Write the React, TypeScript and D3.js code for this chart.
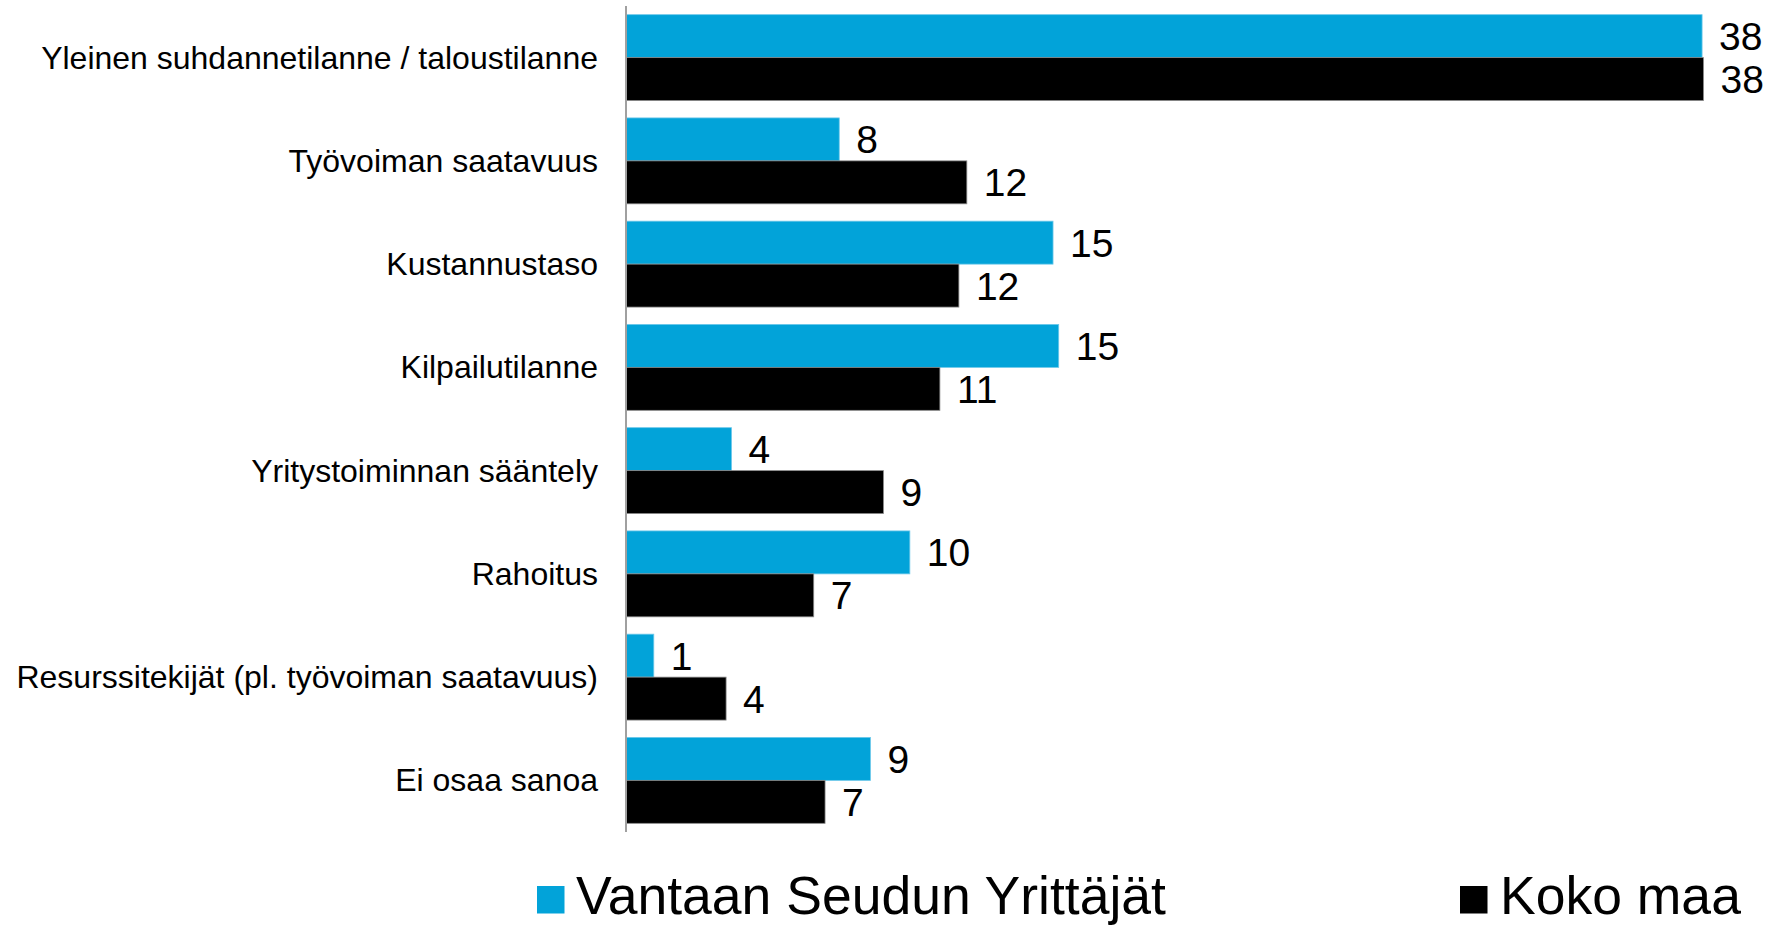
import React from "react";
import * as d3 from "d3";

const categories = [
  "Yleinen suhdannetilanne / taloustilanne",
  "Työvoiman saatavuus",
  "Kustannustaso",
  "Kilpailutilanne",
  "Yritystoiminnan sääntely",
  "Rahoitus",
  "Resurssitekijät (pl. työvoiman saatavuus)",
  "Ei osaa sanoa",
];
const seriesNames = ["Vantaan Seudun Yrittäjät", "Koko maa"];
const vantaa = [37.95, 7.52, 15.06, 15.26, 3.72, 10.01, 0.98, 8.62];
const kokoMaa = [38.0, 12.02, 11.74, 11.07, 9.08, 6.62, 3.53, 7.02];
const colors = ["#02A3D9", "#000000"];

const W = 1775;
const H = 925;
const FONT = "'Liberation Sans', Arial, Helvetica, sans-serif";

export default function App() {
  const x = d3.scaleLinear().domain([0, 38]).range([626, 1703.5]);
  const y = d3
    .scaleBand<string>()
    .domain(categories)
    .range([6, 832])
    .paddingInner(0.168)
    .paddingOuter(0.084);
  const sub = d3
    .scaleBand<string>()
    .domain(seriesNames)
    .range([0, y.bandwidth()]);
  const series = [vantaa, kokoMaa];
  const fmt = d3.format(".0f");

  return (
    <svg
      width={W}
      height={H}
      style={{ position: "absolute", left: 0, top: 0, display: "block", background: "#fff" }}
      fontFamily={FONT}
    >
      {categories.map((c, i) => (
        <g key={c}>
          {series.map((vals, s) => {
            const yy = (y(c) as number) + (sub(seriesNames[s]) as number);
            const bh = sub.bandwidth();
            return (
              <g key={s}>
                <rect
                  x={x(0)}
                  y={yy}
                  width={x(vals[i]) - x(0)}
                  height={bh}
                  fill={colors[s]}
                  stroke={s === 0 ? "#6cc8ea" : "#8a8a8a"}
                  strokeWidth={0.8}
                />
                <text
                  x={x(vals[i]) + 17}
                  y={yy + bh / 2}
                  dy="0.36em"
                  fontSize={39}
                  fill="#000"
                >
                  {fmt(vals[i])}
                </text>
              </g>
            );
          })}
          <text
            x={598}
            y={(y(c) as number) + y.bandwidth() / 2}
            dy="0.34em"
            textAnchor="end"
            fontSize={32}
            fill="#000"
          >
            {c}
          </text>
        </g>
      ))}
      <line x1={x(0)} x2={x(0)} y1={6} y2={832} stroke="#a0a0a0" strokeWidth={2} />
      {/* legend */}
      <rect x={537} y={886} width={27.5} height={27.5} fill={colors[0]} />
      <text x={576} y={914} fontSize={53.5} fill="#000">
        {seriesNames[0]}
      </text>
      <rect x={1460} y={886} width={27.5} height={27.5} fill={colors[1]} />
      <text x={1500} y={914} fontSize={53.5} fill="#000">
        {seriesNames[1]}
      </text>
    </svg>
  );
}
